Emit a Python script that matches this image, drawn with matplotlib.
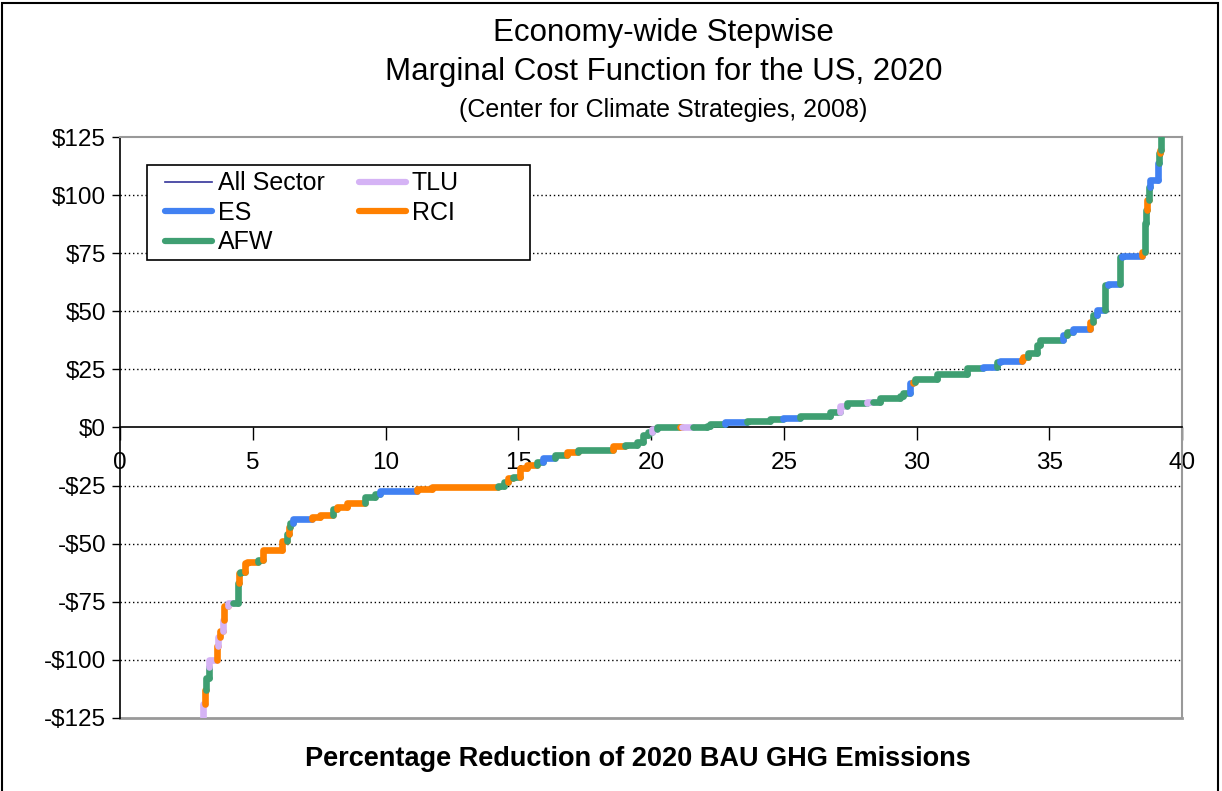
import matplotlib
matplotlib.use('Agg')
import matplotlib.pyplot as plt
from matplotlib.patches import Rectangle
from matplotlib.lines import Line2D

plt.rcParams['font.family'] = ['Liberation Sans', 'DejaVu Sans']

# step curve: right edge (% reduction), cost ($/t) and sector of each measure
start_x = 3.05
step_x = [3.13, 3.20, 3.24, 3.35, 3.36, 3.65, 3.69, 3.75, 3.88, 3.92, 4.07, 4.26, 4.45, 4.48, 4.52,
          4.71, 4.78, 5.20, 5.39, 6.10, 6.29, 6.35, 6.40, 6.52, 7.23, 7.53, 8.02, 8.17, 8.55, 9.23,
          9.60, 9.79, 11.19, 11.75, 14.24, 14.45, 14.61, 14.80, 15.07, 15.33, 15.71, 15.93, 16.38,
          16.84, 17.25, 18.57, 19.02, 19.47, 19.70, 19.89, 20.04, 20.23, 21.09, 21.15, 21.58, 22.11,
          22.22, 22.79, 23.62, 24.48, 24.97, 25.61, 26.74, 27.12, 27.38, 28.14, 28.35, 28.62, 29.38,
          29.49, 29.76, 29.87, 29.94, 30.77, 31.90, 32.50, 33.03, 33.14, 33.97, 34.01, 34.20, 34.54,
          34.65, 35.52, 35.67, 35.89, 36.53, 36.65, 36.80, 37.10, 37.21, 37.66, 37.74, 38.49, 38.61,
          38.65, 38.68, 38.76, 38.79, 39.10, 39.13, 39.16, 39.22, 39.30]
step_cost = [-150, -119, -113, -108, -103, -100, -94, -90, -87.5, -83, -77, -75.5, -75.5, -67, -62.6,
             -62, -58.2, -58, -57, -52.7, -49, -46, -43, -41, -39.4, -38.5, -37.5, -35, -34, -32.4,
             -30, -28.5, -27.2, -26.5, -25.7, -25, -23.5, -21.7, -21.3, -17.4, -16.1, -14.8, -13.1,
             -11.8, -10.5, -9.7, -8.0, -7.5, -6.2, -3.2, -1.9, -0.5, 0, 0, 0, 0,
             0.6, 1.4, 2.5, 2.9, 3.7, 4.2, 5.1, 6.8, 9.3, 10.4, 11.1, 11.1, 12.6,
             13.5, 14.8, 19.1, 19.7, 20.9, 23.0, 25.5, 26.2, 28.1, 28.7, 29.3, 30.5, 31.9,
             35.5, 37.6, 39.8, 41.2, 42.3, 45.5, 48.4, 50.6, 61.3, 61.7, 73.4, 73.8, 75.6,
             88, 93.6, 97.9, 103.6, 106.5, 113.8, 118, 119.4, 140]
step_sector = ['AFW', 'TLU', 'RCI', 'AFW', 'AFW', 'TLU', 'RCI', 'TLU', 'RCI', 'TLU', 'RCI', 'TLU', 'AFW', 'AFW', 'RCI',
               'AFW', 'RCI', 'RCI', 'AFW', 'RCI', 'RCI', 'AFW', 'RCI', 'AFW', 'ES', 'RCI', 'RCI', 'AFW', 'RCI', 'RCI',
               'AFW', 'AFW', 'ES', 'RCI', 'RCI', 'AFW', 'AFW', 'RCI', 'AFW', 'RCI', 'RCI', 'AFW', 'ES',
               'AFW', 'RCI', 'AFW', 'RCI', 'AFW', 'AFW', 'AFW', 'AFW', 'TLU', 'AFW', 'RCI', 'TLU', 'AFW',
               'AFW', 'AFW', 'ES', 'AFW', 'AFW', 'ES', 'AFW', 'AFW', 'TLU', 'AFW', 'TLU', 'AFW', 'AFW',
               'AFW', 'AFW', 'ES', 'RCI', 'AFW', 'AFW', 'AFW', 'ES', 'AFW', 'ES', 'RCI', 'RCI', 'AFW',
               'AFW', 'AFW', 'ES', 'AFW', 'ES', 'RCI', 'AFW', 'ES', 'AFW', 'ES', 'AFW', 'ES', 'RCI',
               'AFW', 'AFW', 'RCI', 'AFW', 'ES', 'ES', 'AFW', 'RCI', 'AFW']

sector_colors = {'ES': '#4181f2', 'AFW': '#3f9f72', 'TLU': '#d5b3f5', 'RCI': '#ff8000'}
all_color = '#333399'

y_ticks = [-125, -100, -75, -50, -25, 0, 25, 50, 75, 100, 125]
x_ticks = [0, 5, 10, 15, 20, 25, 30, 35, 40]

fig = plt.figure(figsize=(12.22, 7.91), dpi=100)
ax = fig.add_axes([0.0982, 0.0923, 0.8691, 0.7345])

# all-sector curve (thin) under the sector-coloured steps
xs, ys = [start_x], [step_cost[0]]
prev_x = start_x
for x, c in zip(step_x, step_cost):
    xs += [prev_x, x]
    ys += [c, c]
    prev_x = x
ax.plot(xs, ys, color=all_color, lw=1, zorder=2)

prev_x, prev_y = start_x, step_cost[0]
for x, c, s in zip(step_x, step_cost, step_sector):
    ax.plot([prev_x, prev_x, x], [prev_y, c, c], color=sector_colors[s], lw=4.8,
            solid_capstyle='round', solid_joinstyle='round', zorder=3)
    prev_x, prev_y = x, c

ax.set_xlim(0, 40)
ax.set_ylim(-125, 125)
ax.set_yticks(y_ticks)
ax.set_yticklabels([('-$%d' % -v) if v < 0 else ('$%d' % v) for v in y_ticks])
ax.set_xticks(x_ticks)
ax.set_xticklabels([str(v) for v in x_ticks])
ax.tick_params(axis='y', direction='out', length=6, width=1, pad=4, labelsize=17.5)
ax.tick_params(axis='x', direction='out', length=9, width=1, pad=9, labelsize=17.5)

for v in y_ticks:
    if v not in (0, -125, 125):
        ax.axhline(v, color='black', lw=1, ls=(0, (1, 2)), zorder=1)

ax.spines['bottom'].set_position(('data', 0))
ax.spines['bottom'].set_linewidth(1.2)
ax.spines['left'].set_linewidth(1.2)
ax.spines['top'].set_color('#999999')
ax.spines['right'].set_color('#999999')
ax.spines['top'].set_linewidth(1.5)
ax.spines['right'].set_linewidth(1.5)
ax.axhline(-125, color='#999999', lw=2, zorder=1, clip_on=False)

handles = [Line2D([], [], color=all_color, lw=1.2)]
labels = ['All Sector']
for s in ['ES', 'AFW', 'TLU', 'RCI']:
    handles.append(Line2D([], [], color=sector_colors[s], lw=4.5, solid_capstyle='round'))
    labels.append(s)
leg = ax.legend(handles, labels, ncol=2, loc='upper left', bbox_to_anchor=(0.0424, 0.941),
                borderaxespad=0, borderpad=0, fontsize=18, frameon=False,
                labelspacing=0.22, handlelength=1.88, handletextpad=0.24, columnspacing=1.36)
# legend box, wider than its entries
ax.add_patch(Rectangle((0.0254, 0.7883), 0.3606, 0.1635, transform=ax.transAxes, fill=True,
                       facecolor='white', edgecolor='black', lw=1.2, zorder=4))
leg.set_zorder(5)

fig.text(0.543, 0.958, 'Economy-wide Stepwise', ha='center', va='center', fontsize=22.5)
fig.text(0.543, 0.909, 'Marginal Cost Function for the US, 2020', ha='center', va='center', fontsize=22.5)
fig.text(0.543, 0.861, '(Center for Climate Strategies, 2008)', ha='center', va='center', fontsize=18)
fig.text(0.522, 0.041, 'Percentage Reduction of 2020 BAU GHG Emissions', ha='center', va='center',
         fontsize=19.5, fontweight='bold')

fig.add_artist(Rectangle((0.002, -0.01), 0.995, 1.006, transform=fig.transFigure, fill=False,
                         edgecolor='black', lw=1.5))

fig.savefig('out.png', dpi=100)
